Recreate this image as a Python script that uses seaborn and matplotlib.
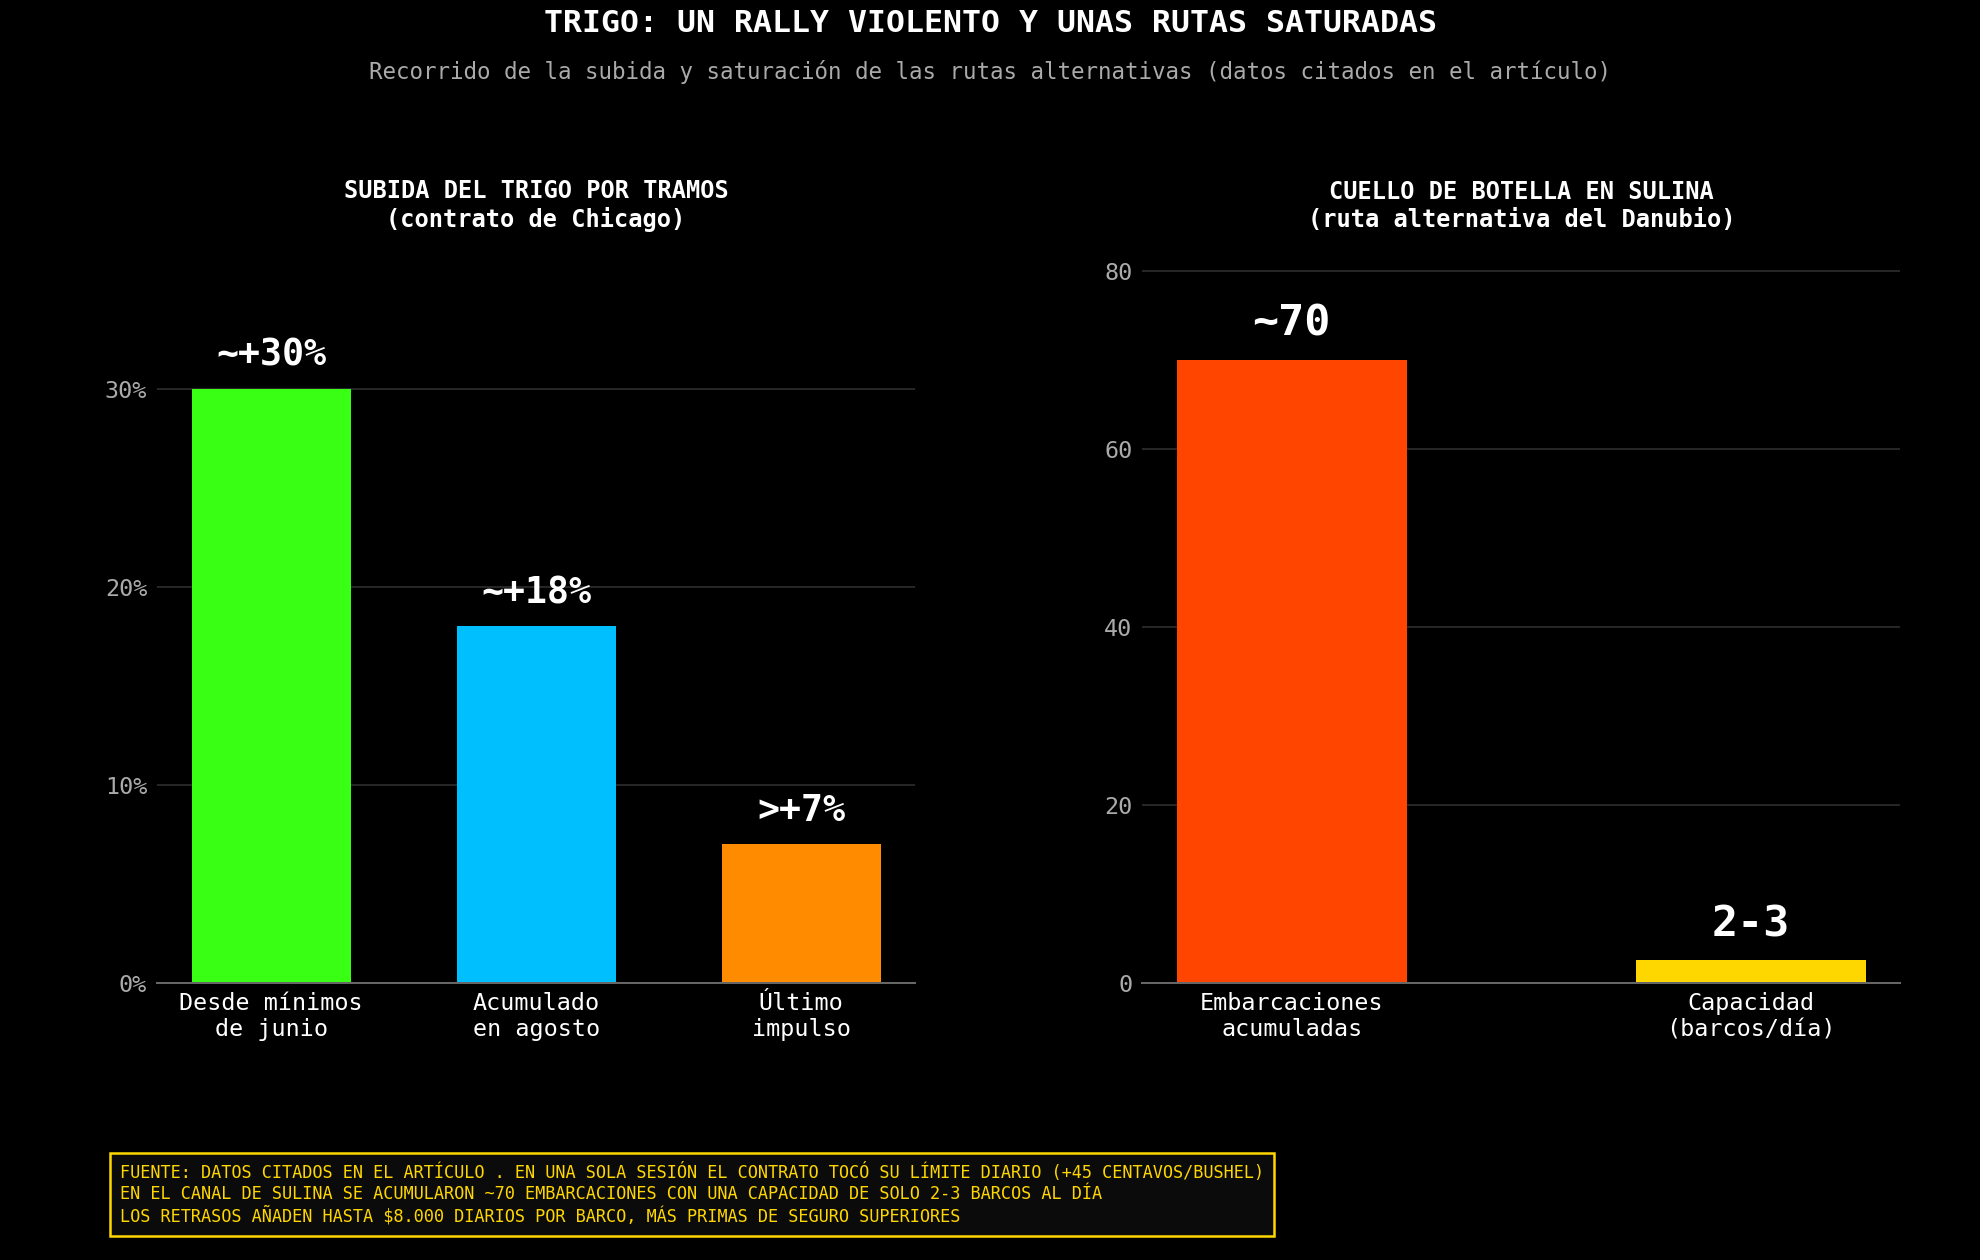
import matplotlib
matplotlib.use('Agg')
import matplotlib.pyplot as plt
import seaborn as sns
from matplotlib.ticker import FuncFormatter

# datos
tramos = ['Desde mínimos\nde junio', 'Acumulado\nen agosto', 'Último\nimpulso']
subida = [30, 18, 7]
etiquetas_subida = ['~+30%', '~+18%', '>+7%']
colores_subida = ['#39FF14', '#00BFFF', '#FF8C00']

sulina = ['Embarcaciones\nacumuladas', 'Capacidad\n(barcos/día)']
valores_sulina = [70, 2.5]
etiquetas_sulina = ['~70', '2-3']
colores_sulina = ['#FF4500', '#FFD700']

fuente = ('FUENTE: DATOS CITADOS EN EL ARTÍCULO . EN UNA SOLA SESIÓN EL CONTRATO TOCÓ SU LÍMITE DIARIO (+45 CENTAVOS/BUSHEL)\n'
          'EN EL CANAL DE SULINA SE ACUMULARON ~70 EMBARCACIONES CON UNA CAPACIDAD DE SOLO 2-3 BARCOS AL DÍA\n'
          'LOS RETRASOS AÑADEN HASTA $8.000 DIARIOS POR BARCO, MÁS PRIMAS DE SEGURO SUPERIORES')

sns.set_style('dark', {'axes.facecolor': 'black', 'figure.facecolor': 'black'})
plt.rcParams['font.family'] = ['DejaVu Sans Mono', 'DejaVu Sans']

fig, (ax1, ax2) = plt.subplots(1, 2, figsize=(16.5, 10.5), dpi=120)
fig.patch.set_facecolor('black')
plt.subplots_adjust(left=0.0794, right=0.9597, top=0.8127, bottom=0.2201, wspace=0.3002)


def estilo(ax):
    ax.set_facecolor('black')
    for s in ['top', 'right', 'left']:
        ax.spines[s].set_visible(False)
    ax.spines['bottom'].set_color('#666666')
    ax.spines['bottom'].set_linewidth(1.2)
    ax.yaxis.grid(True, color='#2e2e2e', linewidth=1.0)
    ax.xaxis.grid(False)
    ax.set_axisbelow(True)
    ax.tick_params(axis='y', length=0, pad=6, labelsize=14, labelcolor='#aaaaaa')
    ax.tick_params(axis='x', length=0, pad=5.5, labelsize=14, labelcolor='white')
    ax.set_xlabel('')
    ax.set_ylabel('')


# panel izquierdo
sns.barplot(x=tramos, y=subida, hue=tramos, palette=colores_subida, width=0.6,
            saturation=1, legend=False, edgecolor='none', linewidth=0, ax=ax1)
estilo(ax1)
ax1.set_xlim(-0.43, 2.43)
ax1.set_ylim(0, 37.7)
ax1.set_yticks([0, 10, 20, 30])
ax1.yaxis.set_major_formatter(FuncFormatter(lambda v, p: f'{v:.0f}%'))
ax1.set_title('SUBIDA DEL TRIGO POR TRAMOS\n(contrato de Chicago)', color='white',
              fontsize=14.2, fontweight='bold', pad=5.5)
for i, (v, t) in enumerate(zip(subida, etiquetas_subida)):
    ax1.annotate(t, (i, v), xytext=(0, 9), textcoords='offset points', ha='center', va='bottom',
                 color='white', fontsize=22, fontweight='bold')

# panel derecho
sns.barplot(x=sulina, y=valores_sulina, hue=sulina, palette=colores_sulina, width=0.5,
            saturation=1, legend=False, edgecolor='none', linewidth=0, ax=ax2)
estilo(ax2)
ax2.set_xlim(-0.325, 1.325)
ax2.set_ylim(0, 83.9)
ax2.set_yticks([0, 20, 40, 60, 80])
ax2.set_title('CUELLO DE BOTELLA EN SULINA\n(ruta alternativa del Danubio)', color='white',
              fontsize=14.2, fontweight='bold', pad=5.5)
for i, (v, t) in enumerate(zip(valores_sulina, etiquetas_sulina)):
    ax2.annotate(t, (i, v), xytext=(0, 9), textcoords='offset points', ha='center', va='bottom',
                 color='white', fontsize=26, fontweight='bold')

# títulos generales
fig.text(0.5, 0.981, 'TRIGO: UN RALLY VIOLENTO Y UNAS RUTAS SATURADAS', ha='center', va='center',
         color='white', fontsize=18.9, fontweight='bold')
fig.text(0.5, 0.943, 'Recorrido de la subida y saturación de las rutas alternativas (datos citados en el artículo)',
         ha='center', va='center', color='#aaaaaa', fontsize=13.5)

# nota de fuente
fig.text(0.0606, 0.027, fuente, ha='left', va='bottom', color='#FFD700', fontsize=10.1, linespacing=1.2,
         bbox=dict(boxstyle='square,pad=0.6', facecolor='#0b0b0b', edgecolor='#FFD700', linewidth=1.5))

plt.savefig('out.png', dpi=120, facecolor='black')
